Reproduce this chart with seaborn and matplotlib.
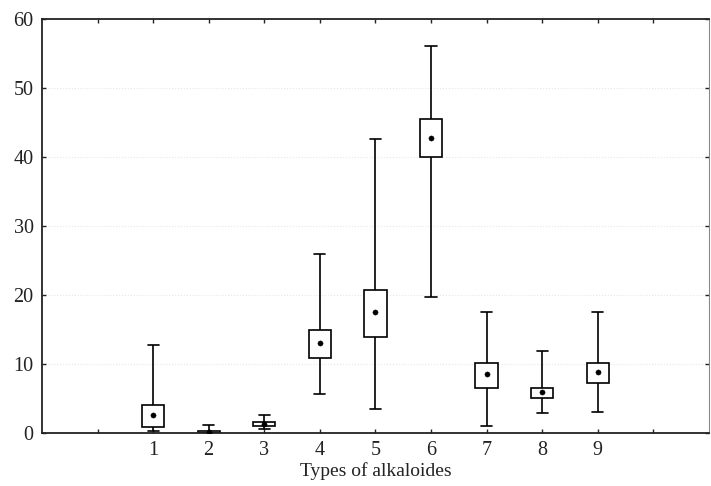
import pandas as pd
import seaborn as sns
import matplotlib.pyplot as plt

# values
types = [1, 2, 3, 4, 5, 6, 7, 8, 9]
whisker_low = [0.25, 0.0, 0.55, 5.7, 3.5, 19.8, 1.0, 2.9, 3.05]
box_low = [0.9, 0.0, 1.0, 10.9, 14.0, 40.0, 6.5, 5.1, 7.3]
center = [2.6, 0.15, 1.3, 13.0, 17.5, 42.8, 8.6, 5.9, 8.8]
box_high = [4.0, 0.3, 1.65, 15.0, 20.8, 45.5, 10.2, 6.6, 10.2]
whisker_high = [12.7, 1.15, 2.6, 25.9, 42.6, 56.2, 17.5, 11.9, 17.6]

# five summary values per group -> quartiles and min/max reproduce the boxes
rows = []
for t, lo, q1, m, q3, hi in zip(types, whisker_low, box_low, center, box_high, whisker_high):
    for v in (lo, q1, m, q3, hi):
        rows.append({"type": t, "value": v})
df = pd.DataFrame(rows)
means = pd.DataFrame({"type": types, "value": center})

sns.set_style("ticks")
plt.rcParams["font.family"] = ["Liberation Serif", "DejaVu Serif"]

fig, ax = plt.subplots(figsize=(7.11, 4.86), dpi=100)
fig.subplots_adjust(left=0.059, right=0.997, top=0.96, bottom=0.109)

sns.boxplot(data=df, x="type", y="value", native_scale=True, whis=(0, 100),
            width=0.4, color="white", linecolor="black", linewidth=1.2,
            medianprops={"visible": False}, showfliers=False, ax=ax)
sns.scatterplot(data=means, x="type", y="value", color="black", s=14,
                edgecolor="black", zorder=5, legend=False, ax=ax)

ax.set_xlim(-1, 11)
ax.set_ylim(0, 60)
ax.set_xticks(range(0, 11))
ax.set_xticklabels([""] + [str(t) for t in types] + [""])
ax.set_yticks(range(0, 61, 10))
ax.yaxis.grid(True, color="#e6e6e6", linestyle=":", linewidth=0.8)
ax.set_axisbelow(True)

ax.tick_params(direction="in", top=True, right=True, length=3, width=1,
               labelsize=14.5, pad=6, colors="#222222")
for side in ["left", "bottom", "top"]:
    ax.spines[side].set_color("#222222")
    ax.spines[side].set_linewidth(1.3)
ax.spines["right"].set_color("#888888")
ax.spines["right"].set_linewidth(0.8)

ax.set_xlabel("Types of alkaloides", fontsize=14, labelpad=1, color="#222222")
ax.set_ylabel("")

plt.savefig("out.png", dpi=100)
